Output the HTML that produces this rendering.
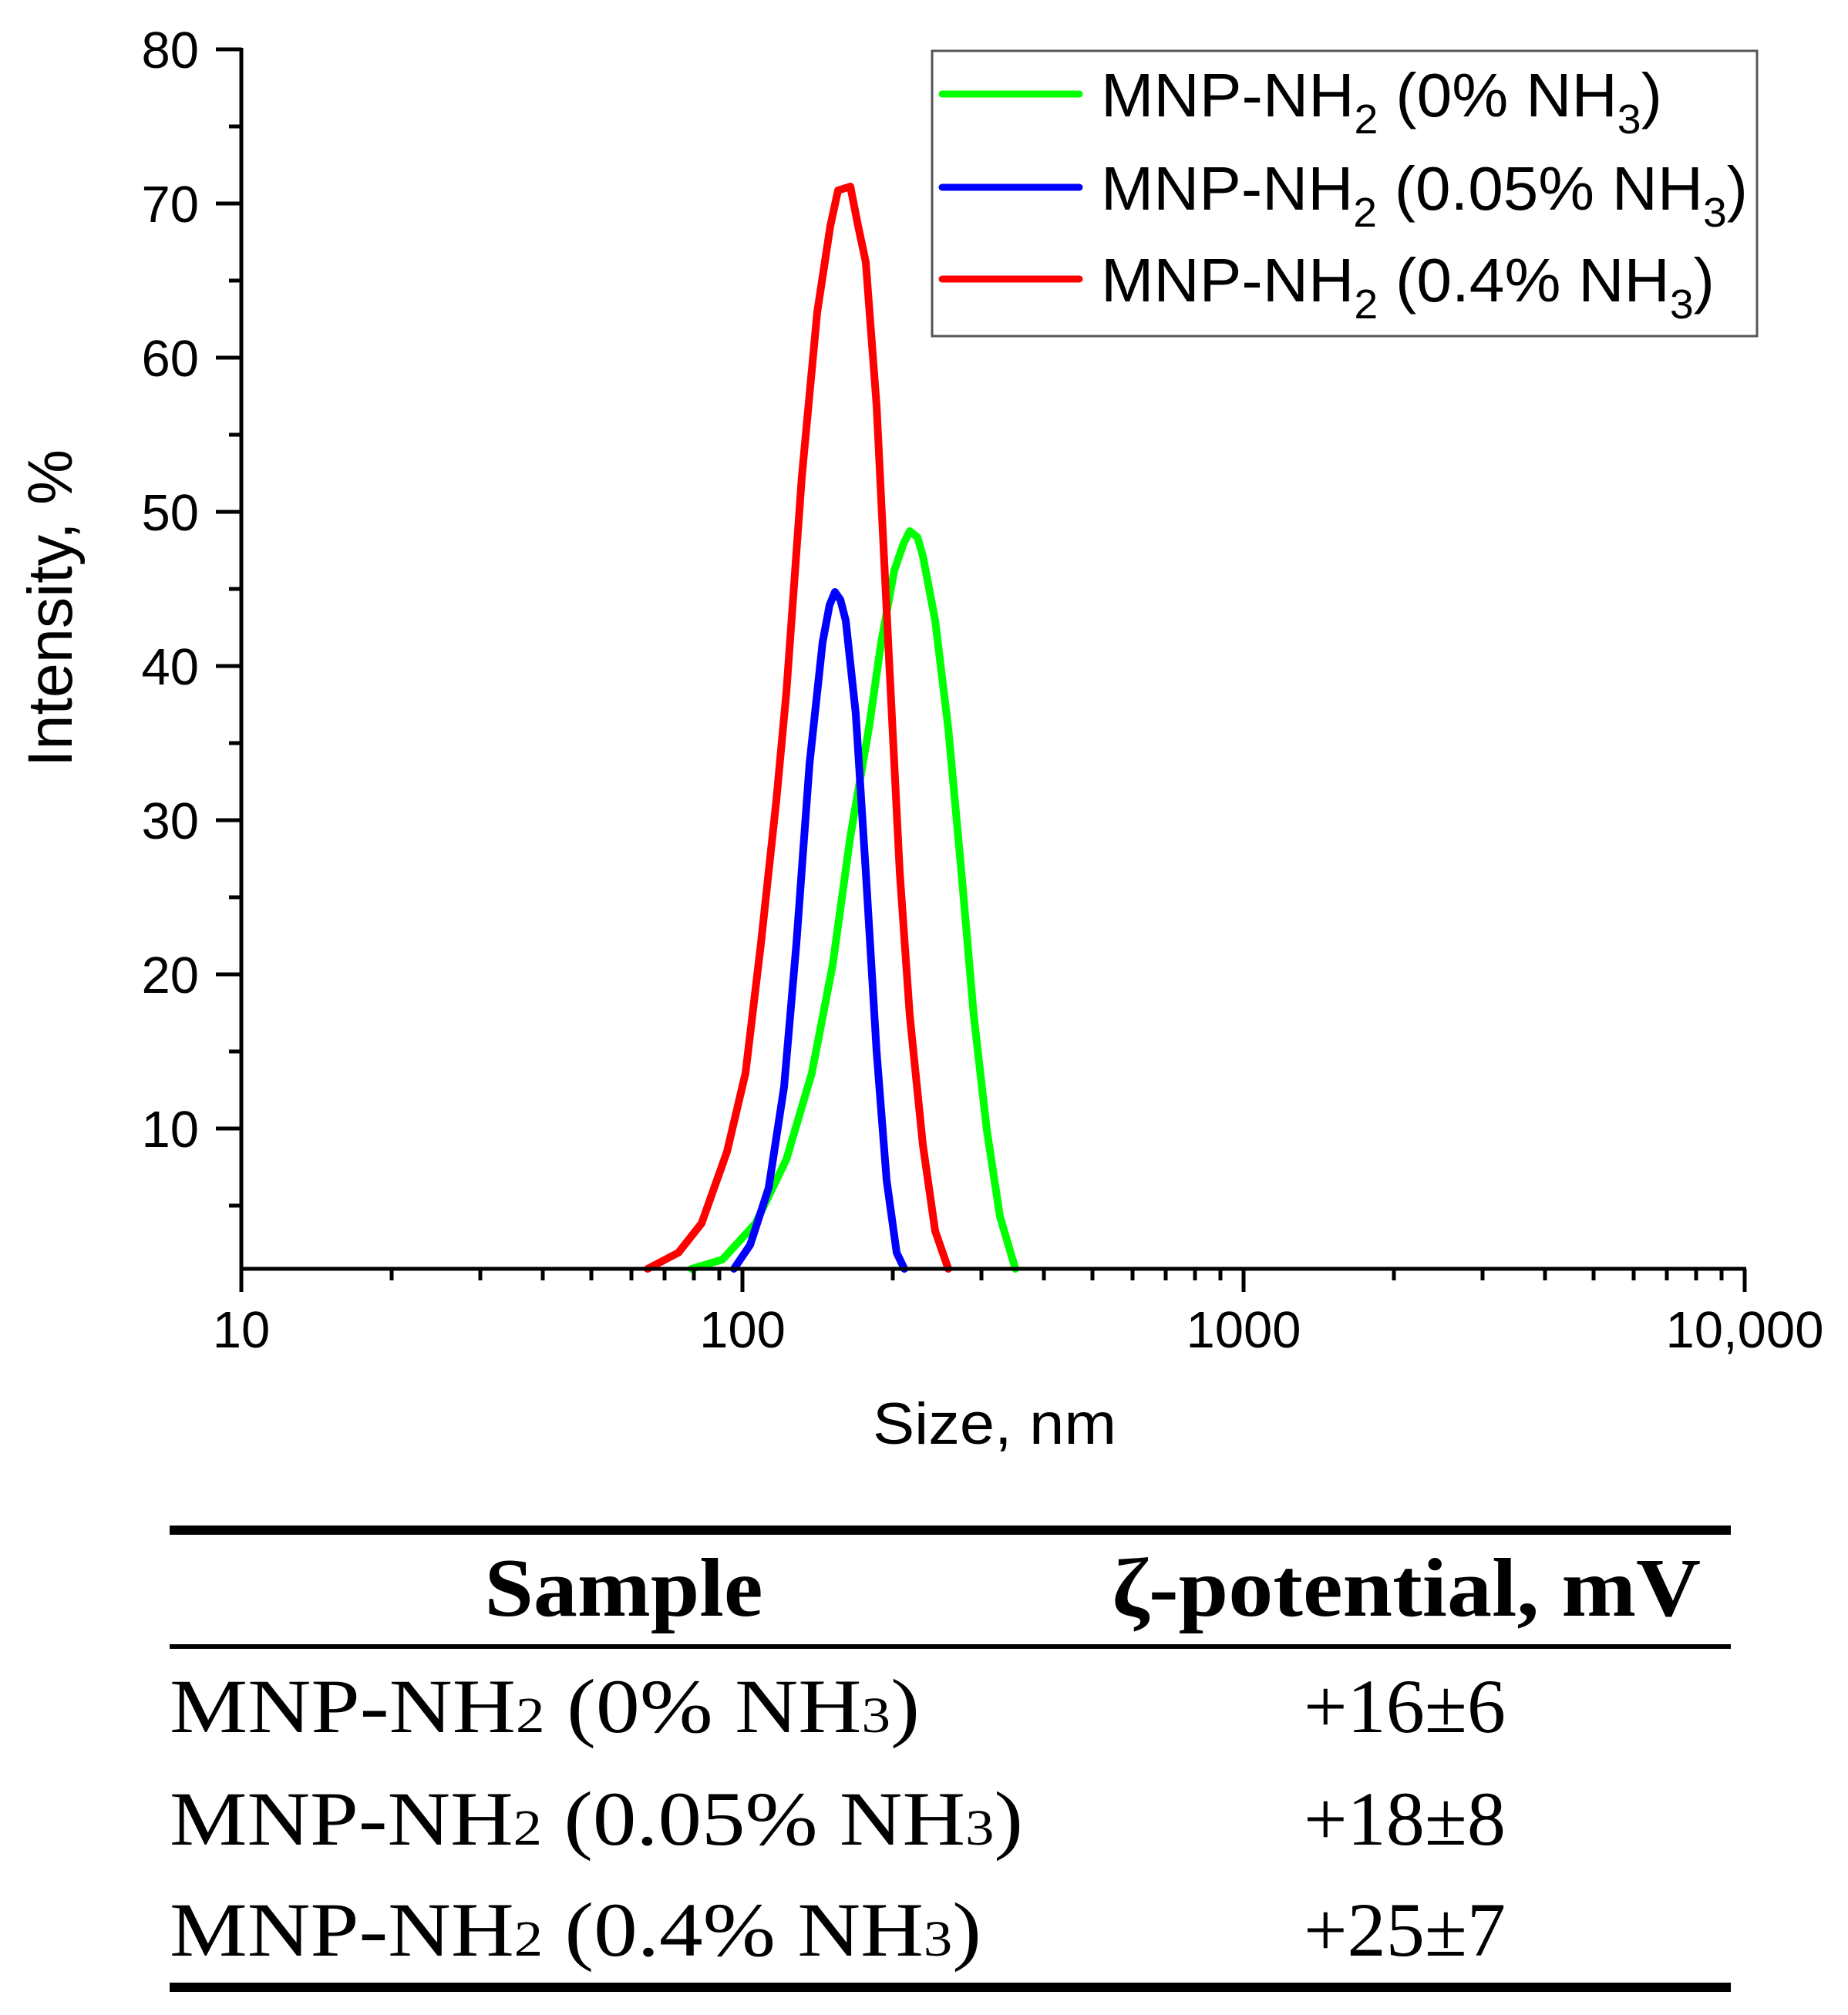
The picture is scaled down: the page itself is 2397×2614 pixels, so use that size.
<!DOCTYPE html>
<html><head><meta charset="utf-8"><style>html,body{margin:0;padding:0;background:#fff}svg{display:block}</style></head>
<body>
<svg width="2397" height="2614" viewBox="0 0 2397 2614" xmlns="http://www.w3.org/2000/svg">
<rect width="2397" height="2614" fill="#fff"/>
<g fill="none" stroke-linejoin="round" stroke-linecap="round" stroke-width="10">
<polyline stroke="#00ff00" points="897,1646 937,1634 980,1587 1020,1504 1053,1392 1080,1252 1103,1085 1127,945 1143,833 1160,740 1172,705 1180,689 1190,697 1197,721 1213,805 1230,945 1247,1131 1263,1317 1280,1466 1297,1578 1317,1646"/>
<polyline stroke="#0000ff" points="952,1646 973,1615 997,1541 1017,1410 1033,1224 1050,991 1067,833 1076,785 1083,768 1090,778 1097,805 1110,926 1123,1131 1137,1364 1150,1531 1163,1625 1173,1646"/>
<polyline stroke="#ff0000" points="840,1646 880,1625 910,1587 943,1494 967,1392 987,1224 1007,1038 1020,898 1040,619 1060,405 1077,293 1087,247 1103,242 1113,293 1123,340 1137,526 1153,852 1167,1131 1180,1317 1197,1485 1213,1597 1230,1646"/>
</g>
<g stroke="#000" stroke-width="5" fill="none">
<line x1="313" y1="62" x2="313" y2="1676"/>
<line x1="311" y1="1646" x2="2265" y2="1646"/>
<path d="M280,64H313M280,264H313M280,464H313M280,664H313M280,864H313M280,1064H313M280,1264H313M280,1464H313"/>
<path d="M297,164H313M297,364H313M297,564H313M297,764H313M297,964H313M297,1164H313M297,1364H313M297,1564H313"/>
<path d="M963,1646V1676M1613,1646V1676M2263,1646V1676"/>
<path d="M508,1646V1661M623,1646V1661M704,1646V1661M767,1646V1661M819,1646V1661M862,1646V1661M900,1646V1661M933,1646V1661
M1158,1646V1661M1273,1646V1661M1354,1646V1661M1417,1646V1661M1469,1646V1661M1512,1646V1661M1550,1646V1661M1583,1646V1661
M1808,1646V1661M1923,1646V1661M2004,1646V1661M2067,1646V1661M2119,1646V1661M2162,1646V1661M2200,1646V1661M2233,1646V1661"/>
</g>
<g font-family="Liberation Sans, sans-serif" font-size="67" fill="#000" text-anchor="end">
<text x="258" y="88">80</text><text x="258" y="288">70</text><text x="258" y="488">60</text><text x="258" y="688">50</text>
<text x="258" y="888">40</text><text x="258" y="1088">30</text><text x="258" y="1288">20</text><text x="258" y="1488">10</text>
</g>
<g font-family="Liberation Sans, sans-serif" font-size="67" fill="#000" text-anchor="middle">
<text x="313" y="1748">10</text><text x="963" y="1748">100</text><text x="1613" y="1748">1000</text><text x="2263" y="1748">10,000</text>
</g>
<text x="1290" y="1873" font-family="Liberation Sans, sans-serif" font-size="76" text-anchor="middle" textLength="316" lengthAdjust="spacingAndGlyphs">Size, nm</text>
<text transform="translate(93,995) rotate(-90)" font-family="Liberation Sans, sans-serif" font-size="82" textLength="412" lengthAdjust="spacingAndGlyphs">Intensity, %</text>
<rect x="1209" y="66" width="1070" height="370" fill="none" stroke="#555" stroke-width="3"/>
<g stroke-width="9" stroke-linecap="round">
<line x1="1222" y1="122" x2="1400" y2="122" stroke="#00ff00"/>
<line x1="1222" y1="243" x2="1400" y2="243" stroke="#0000ff"/>
<line x1="1222" y1="362" x2="1400" y2="362" stroke="#ff0000"/>
</g>
<g font-family="Liberation Sans, sans-serif" font-size="80" fill="#000">
<text x="1428" y="151" textLength="728" lengthAdjust="spacingAndGlyphs">MNP-NH<tspan font-size="54" dy="22">2</tspan><tspan dy="-22"> (0% NH</tspan><tspan font-size="54" dy="22">3</tspan><tspan dy="-22">)</tspan></text>
<text x="1428" y="272" textLength="839" lengthAdjust="spacingAndGlyphs">MNP-NH<tspan font-size="54" dy="22">2</tspan><tspan dy="-22"> (0.05% NH</tspan><tspan font-size="54" dy="22">3</tspan><tspan dy="-22">)</tspan></text>
<text x="1428" y="391" textLength="796" lengthAdjust="spacingAndGlyphs">MNP-NH<tspan font-size="54" dy="22">2</tspan><tspan dy="-22"> (0.4% NH</tspan><tspan font-size="54" dy="22">3</tspan><tspan dy="-22">)</tspan></text>
</g>
<g fill="#000">
<rect x="220" y="1979" width="2025" height="12"/>
<rect x="220" y="2133" width="2025" height="6"/>
<rect x="220" y="2572" width="2025" height="12"/>
</g>
<g font-family="Liberation Serif, serif" fill="#000">
<text x="809" y="2096" font-size="108" font-weight="bold" text-anchor="middle" textLength="361" lengthAdjust="spacingAndGlyphs">Sample</text>
<text x="1824" y="2096" font-size="108" font-weight="bold" text-anchor="middle" textLength="764" lengthAdjust="spacingAndGlyphs">ζ-potential, mV</text>
<text x="220" y="2247" font-size="100" textLength="973" lengthAdjust="spacingAndGlyphs">MNP-NH<tspan font-size="66">2</tspan> (0% NH<tspan font-size="66">3</tspan>)</text>
<text x="220" y="2393" font-size="100" textLength="1107" lengthAdjust="spacingAndGlyphs">MNP-NH<tspan font-size="66">2</tspan> (0.05% NH<tspan font-size="66">3</tspan>)</text>
<text x="220" y="2537" font-size="100" textLength="1053" lengthAdjust="spacingAndGlyphs">MNP-NH<tspan font-size="66">2</tspan> (0.4% NH<tspan font-size="66">3</tspan>)</text>
<text x="1822" y="2247" font-size="100" text-anchor="middle" textLength="262" lengthAdjust="spacingAndGlyphs">+16±6</text>
<text x="1822" y="2393" font-size="100" text-anchor="middle" textLength="262" lengthAdjust="spacingAndGlyphs">+18±8</text>
<text x="1822" y="2537" font-size="100" text-anchor="middle" textLength="262" lengthAdjust="spacingAndGlyphs">+25±7</text>
</g>
</svg>
</body></html>
